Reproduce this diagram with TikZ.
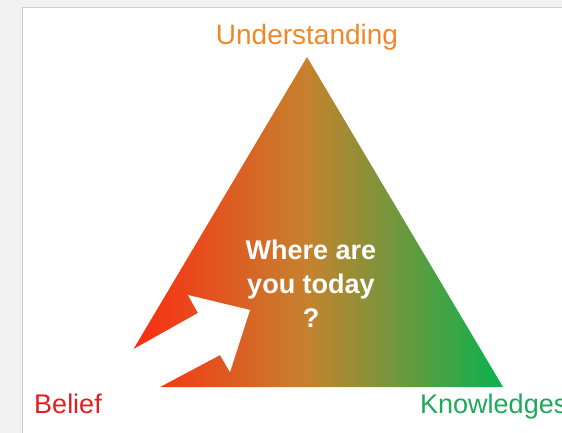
\documentclass[tikz,border=0pt]{standalone}
\usepackage{fontspec}
\setmainfont{Liberation Sans}
\definecolor{redend}{HTML}{FF2410}
\definecolor{midbrown}{HTML}{C6822E}
\definecolor{greenend}{HTML}{10B04E}
\definecolor{undorange}{HTML}{F0882A}
\definecolor{beliefred}{HTML}{E02020}
\definecolor{knowgreen}{HTML}{1FA85A}
\pgfdeclarehorizontalshading{trishade}{100bp}{color(0bp)=(redend); color(26bp)=(redend);
  color(50bp)=(midbrown); color(74bp)=(greenend); color(100bp)=(greenend)}
\begin{document}
\begin{tikzpicture}[x=1pt,y=-1pt,
  corner/.style={anchor=base,inner sep=0pt,font=\fontsize{27}{30}\selectfont},
  question/.style={anchor=north,inner sep=0pt,align=center,text=white,
    font=\bfseries\fontsize{27}{34}\selectfont}]
\useasboundingbox (0,0) rectangle (562,433);
\fill[black!5] (0,0) rectangle (562,433);			%shadow
\fill[white] (22,7) rectangle (562,433);			%card
\draw[black!20] (22,433) -- (22,7) -- (562,7);
\shade[shading=trishade] (307,57) -- (503,387) -- (111,387) -- cycle;	%triangle
\fill[white] (80,379) -- (132,350) -- (198,313) -- (188,295) -- (250,310)
  -- (230,372) -- (220,355) -- (158,388) -- (110,414) -- cycle;	%arrow
\node[corner,text=undorange,font=\fontsize{28}{30}\selectfont] (understanding) at (307,45) {Understanding};
\node[corner,text=beliefred] (belief) at (68,413) {Belief};
\node[corner,text=knowgreen,anchor=base west] (knowledges) at (420,413) {Knowledges};
\node[question] (today) at (311,240) {Where are\\you today\\?};
\end{tikzpicture}
\end{document}
